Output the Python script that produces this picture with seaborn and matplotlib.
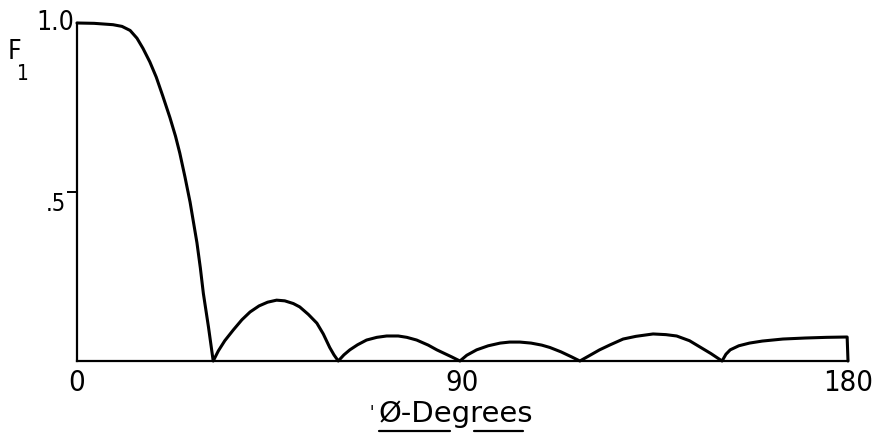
import matplotlib
matplotlib.use("Agg")
import matplotlib.pyplot as plt
from matplotlib.lines import Line2D
from matplotlib import font_manager
import pandas as pd
import seaborn as sns

# Angle (degrees) and relative field F1 traced along the pattern
phi_deg = [0, 4, 8.4, 10.5, 12.4, 14.0, 15.4, 17.0, 18.5, 20.0, 21.7, 23.0, 24.0,
           25.2, 26.4, 27.2, 28.0, 28.8, 29.5, 30.7, 31.8,
           33.0, 34.5, 36.5, 38.5, 40.4, 42.5, 44.5, 46.6, 48.5, 50.5, 52.0, 54.0,
           56.0, 57.5, 59.0, 60.0, 61.0,
           62.3, 63.7, 65.5, 67.6, 70.0, 72.3, 75.0, 77.0, 79.3, 82.0, 84.0, 85.5,
           87.5, 89.4,
           91.0, 93.3, 96.0, 98.8, 101.0, 103.4, 106.0, 108.5, 110.4, 113.0, 115.5,
           117.4,
           119.5, 122.0, 124.5, 127.5, 130.5, 134.5, 137.5, 140.0, 143.0, 145.5,
           148.0, 150.6,
           151.5, 152.5, 154.5, 157.0, 160.0, 164.8, 170.0, 175.0, 179.8, 180.0]
f1_val = [1.0, 0.999, 0.995, 0.99, 0.978, 0.955, 0.925, 0.885, 0.84, 0.785, 0.72,
          0.665, 0.615, 0.545, 0.47, 0.41, 0.35, 0.275, 0.20, 0.10, 0.0,
          0.03, 0.06, 0.092, 0.122, 0.145, 0.163, 0.174, 0.18, 0.178, 0.17, 0.16,
          0.138, 0.112, 0.08, 0.04, 0.018, 0.0,
          0.018, 0.033, 0.048, 0.062, 0.07, 0.074, 0.074, 0.07, 0.062, 0.047, 0.033,
          0.024, 0.012, 0.0,
          0.017, 0.033, 0.045, 0.053, 0.056, 0.056, 0.053, 0.047, 0.04, 0.027, 0.012,
          0.0,
          0.015, 0.033, 0.048, 0.065, 0.073, 0.08, 0.078, 0.074, 0.06, 0.041, 0.022,
          0.0,
          0.02, 0.033, 0.045, 0.053, 0.059, 0.065, 0.068, 0.07, 0.071, 0.0]

x_ticks = [0, 90, 180]
x_tick_labels = ["0", "90", "180"]
y_ticks = [0.5]
y_tick_labels = [".5"]
x_title = "Ø-Degrees"

df = pd.DataFrame({"phi": phi_deg, "F1": f1_val})

sns.set_theme(style="white")
plt.rcParams["font.family"] = ["DejaVu Sans"]

# Prefer a condensed lettering face for the numerals when one is installed
faces = {(f.name, f.stretch) for f in font_manager.fontManager.ttflist}
narrow = "condensed" if any(n == "DejaVu Sans" and s in ("condensed", "semi-condensed")
                            for n, s in faces) else "normal"
plt.rcParams["font.stretch"] = narrow

fig = plt.figure(figsize=(8.84, 4.36), dpi=100)
ax = fig.add_axes([77 / 884, 75 / 436, 771 / 884, 338 / 436])

sns.lineplot(data=df, x="phi", y="F1", ax=ax, color="black", linewidth=2.2,
             sort=False, estimator=None, clip_on=False,
             solid_joinstyle="round", solid_capstyle="round")

ax.set_xlim(0, 180)
ax.set_ylim(0, 1.0)

for side in ("top", "right"):
    ax.spines[side].set_visible(False)
for side in ("left", "bottom"):
    ax.spines[side].set_color("black")
    ax.spines[side].set_linewidth(1.6)

ax.set_xticks(x_ticks)
ax.set_xticklabels(x_tick_labels, fontsize=21)
ax.tick_params(axis="x", length=0, pad=6, colors="black")

ax.set_yticks(y_ticks)
ax.set_yticklabels(y_tick_labels, fontsize=17)
ax.tick_params(axis="y", length=7, width=1.4, pad=1, colors="black", left=True)
for lbl in ax.get_yticklabels():
    lbl.set_va("top")
    lbl.set_y(0.49)

ax.text(-0.6, 1.0, "1.0", transform=ax.transData, ha="right", va="center",
        fontsize=19, color="black")

ax.set_ylabel("")
xl = ax.set_xlabel(x_title, fontsize=21, color="black", labelpad=2,
                   fontstretch="normal")
xl.set_x((456 - 77) / 771)

# Axis symbol F with subscript 1
fig.text(8 / 884, 1 - 52 / 436, "F", ha="left", va="center", fontsize=19, color="black")
fig.text(17 / 884, 1 - 74 / 436, "1", ha="left", va="center", fontsize=15, color="black")

# Hand-lettered underline beneath the axis title, broken around the descender of g
fig.canvas.draw()
renderer = fig.canvas.get_renderer()
bbox = xl.get_window_extent(renderer)
fp = xl.get_fontproperties()


def text_width(s):
    w, _, _ = renderer.get_text_width_height_descent(s, fp, ismath=False)
    return w


total = text_width(x_title)
scale = bbox.width / total
g_at = x_title.index("g")
start_g = bbox.x0 + text_width(x_title[:g_at]) * scale
end_g = bbox.x0 + text_width(x_title[:g_at + 1]) * scale
y_line = bbox.y0 - 3
H = fig.bbox.height
W = fig.bbox.width
for x0, x1 in [(bbox.x0, start_g - 2), (end_g + 3, bbox.x1 - 10)]:
    fig.add_artist(Line2D([x0 / W, x1 / W], [y_line / H, y_line / H],
                          color="black", linewidth=1.6, transform=fig.transFigure))

fig.text((bbox.x0 - 7) / W, (bbox.y1 - 4) / H, "'", ha="center", va="top",
         fontsize=13, color="black")

fig.savefig("out.png", dpi=100, facecolor="white")
